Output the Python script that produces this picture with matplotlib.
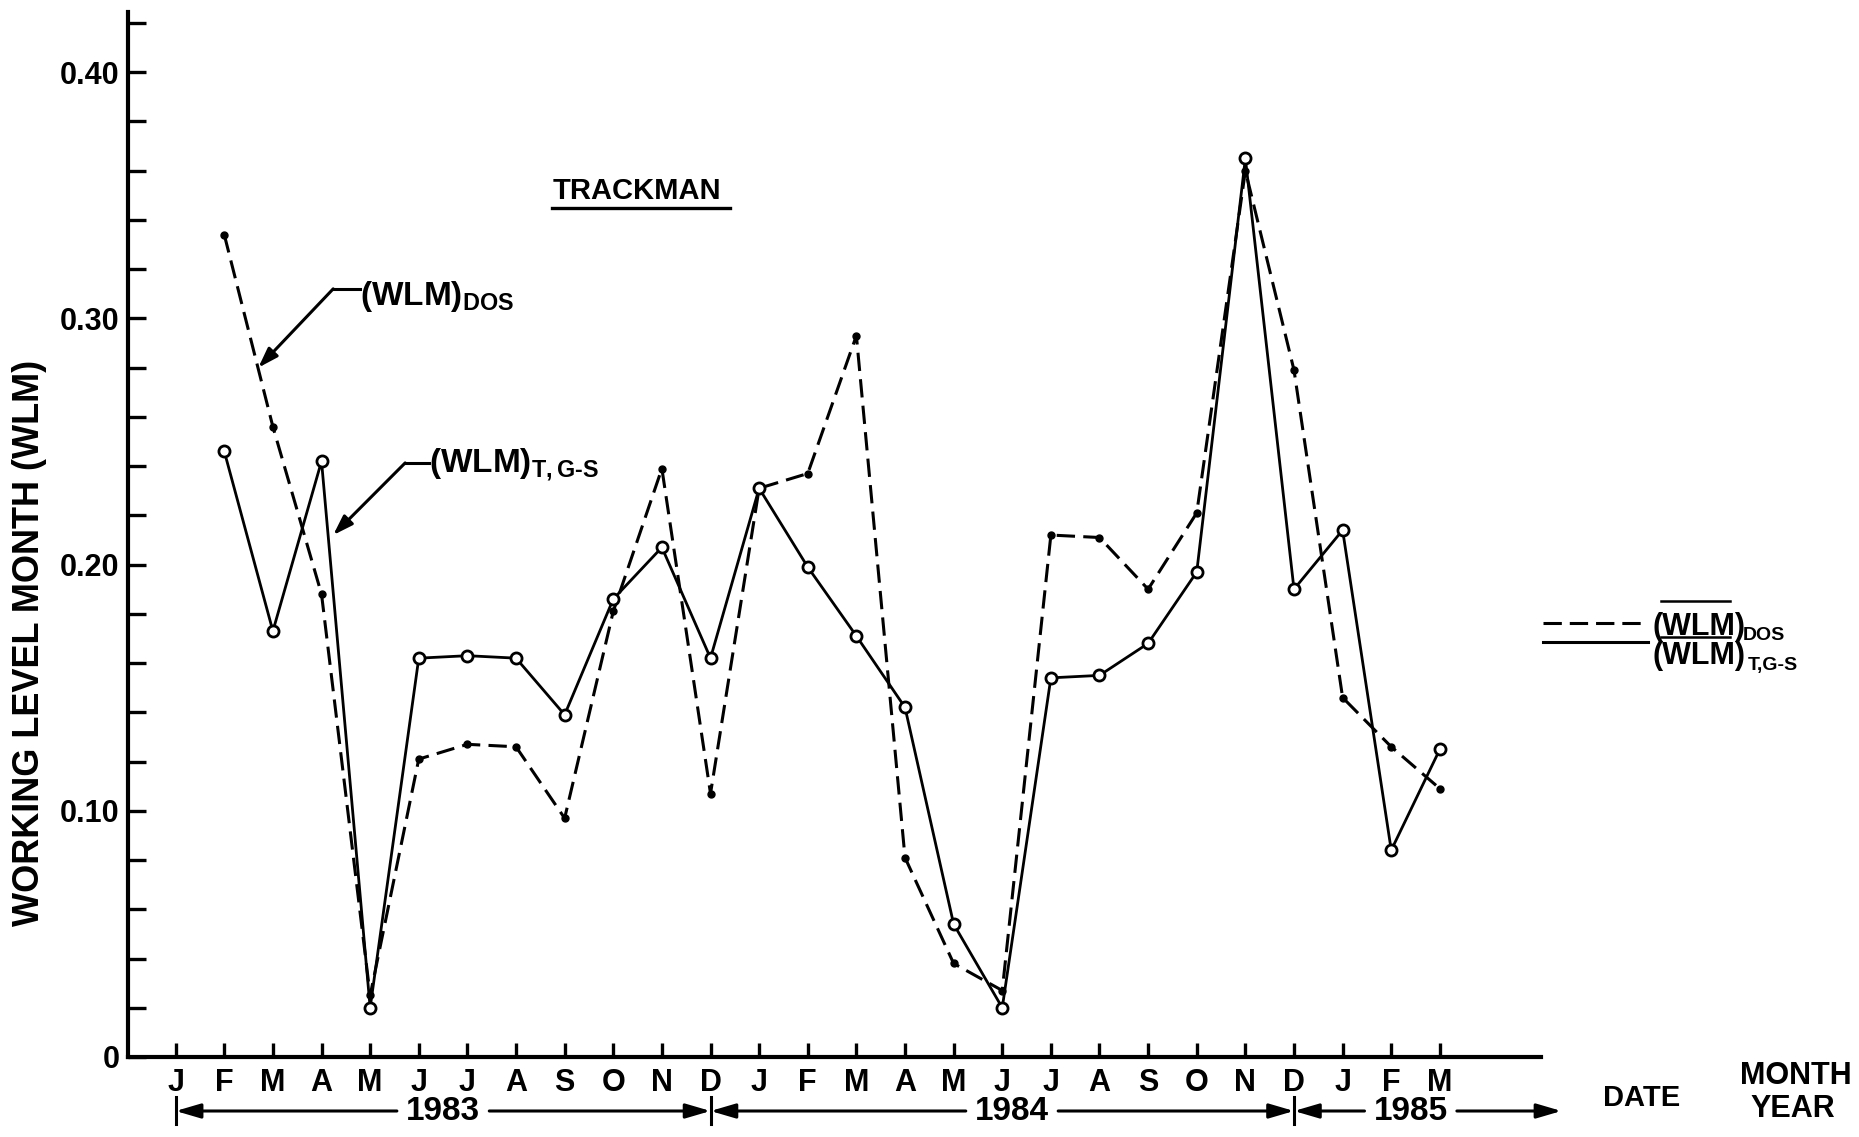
import matplotlib
matplotlib.use("Agg")
import matplotlib.pyplot as plt
import matplotlib.transforms as mtransforms
from matplotlib.lines import Line2D
import numpy as np

plt.rcParams['font.family'] = ['Liberation Sans', 'DejaVu Sans']
plt.rcParams['font.weight'] = 'bold'
plt.rcParams['mathtext.fontset'] = 'custom'
plt.rcParams['mathtext.rm'] = 'Liberation Sans:bold'
plt.rcParams['mathtext.it'] = 'Liberation Sans:bold:italic'
plt.rcParams['mathtext.bf'] = 'Liberation Sans:bold'

# ---- data ----
months = ["J", "F", "M", "A", "M", "J", "J", "A", "S", "O", "N", "D",
          "J", "F", "M", "A", "M", "J", "J", "A", "S", "O", "N", "D",
          "J", "F", "M"]
# data start at Feb 1983 (index 1)
dos = [0.334, 0.256, 0.188, 0.025, 0.121, 0.127, 0.126, 0.097, 0.181, 0.239, 0.107,
       0.231, 0.237, 0.293, 0.081, 0.038, 0.027, 0.212, 0.211, 0.190, 0.221, 0.360,
       0.279, 0.146, 0.126, 0.109]
tgs = [0.246, 0.173, 0.242, 0.020, 0.162, 0.163, 0.162, 0.139, 0.186, 0.207, 0.162,
       0.231, 0.199, 0.171, 0.142, 0.054, 0.020, 0.154, 0.155, 0.168, 0.197, 0.365,
       0.190, 0.214, 0.084, 0.125]
years = ["1983", "1984", "1985"]
year_centers = [5.5, 17.2, 25.4]
year_bounds = [(0, 11), (11, 23), (23, 28.5)]

W, H = 1859, 1137
AX_L, AX_R, AX_B, AX_T = 128, 1541, 1057, 12
fig = plt.figure(figsize=(W / 100, H / 100), dpi=100)
ax = fig.add_axes([AX_L / W, (H - AX_B) / H, (AX_R - AX_L) / W, (AX_B - AX_T) / H])

x = np.arange(1, 1 + len(dos))
ax.plot(x, dos, color='black', lw=2.2, linestyle=(0, (6.0, 2.7)),
        marker='o', markersize=5, markerfacecolor='black', markeredgecolor='black',
        zorder=3)
ax.plot(x, tgs, color='black', lw=2.0, linestyle='-',
        marker='o', markersize=8, markerfacecolor='white', markeredgecolor='black',
        markeredgewidth=2.0, zorder=4)

ax.set_xlim(-0.98, 28.08)
ax.set_ylim(0, (AX_B - AX_T) / 2462)
for s in ['top', 'right']:
    ax.spines[s].set_visible(False)
for s in ['left', 'bottom']:
    ax.spines[s].set_linewidth(3.0)

ax.set_yticks([0, 0.1, 0.2, 0.3, 0.4])
ax.set_yticklabels(["0", "0.10", "0.20", "0.30", "0.40"])
ax.set_yticks(np.arange(0.02, 0.43, 0.02), minor=True)
ax.tick_params(axis='y', which='both', direction='in', length=13, width=2.4,
               labelsize=22, pad=6)
ax.set_xticks(np.arange(len(months)))
ax.set_xticklabels(months)
ax.tick_params(axis='x', which='both', direction='in', length=10, width=2.4,
               labelsize=22, pad=8)

fig.text(30 / W, 1 - 643 / H, "WORKING LEVEL MONTH (WLM)", fontsize=26,
         rotation=90, ha='center', va='center')

# title label
ax.text(7.75, 0.3485, "TRACKMAN", fontsize=21, ha='left', va='baseline')
ax.plot([7.73, 11.41], [0.3450, 0.3450], color='black', lw=2.4, clip_on=False)

# annotation leaders
def leader(text, tip, bend, start, txt_xy):
    ax.plot([bend[0], start[0]], [bend[1], start[1]], color='black', lw=2.2)
    ax.annotate('', xy=tip, xytext=bend,
                arrowprops=dict(arrowstyle='-|>,head_length=0.6,head_width=0.2',
                                mutation_scale=20, color='black', lw=2.2,
                                shrinkA=0, shrinkB=0))
    ax.text(txt_xy[0], txt_xy[1], text, fontsize=24, ha='left', va='baseline')

leader(r'$(\mathrm{WLM})_{\mathrm{DOS}}$', (1.70, 0.280), (3.24, 0.312),
       (3.80, 0.312), (3.80, 0.3054))
leader(r'$(\mathrm{WLM})_{\mathrm{T,G\text{-}S}}$', (3.24, 0.212), (4.72, 0.2413),
       (5.22, 0.2413), (5.22, 0.2376))

# legend at right
fy = lambda py: 1 - py / H
fx = lambda px: px / W
fig.add_artist(Line2D([fx(1543), fx(1648)], [fy(623), fy(623)], color='black', lw=2.2,
                      linestyle=(0, (6.0, 2.6))))
fig.add_artist(Line2D([fx(1543), fx(1648)], [fy(642), fy(642)], color='black', lw=2.2))
fig.text(fx(1652), fy(635), "(WLM)", fontsize=22, ha='left', va='baseline')
fig.text(fx(1743), fy(640), "DOS", fontsize=14, ha='left', va='baseline')
fig.text(fx(1652), fy(664), "(WLM)", fontsize=22, ha='left', va='baseline')
fig.text(fx(1748), fy(670), "T,G-S", fontsize=14, ha='left', va='baseline')
fig.add_artist(Line2D([fx(1661), fx(1730)], [fy(601), fy(601)], color='black', lw=1.8))
fig.add_artist(Line2D([fx(1661), fx(1730)], [fy(637), fy(637)], color='black', lw=1.8))

# year row
trans = mtransforms.blended_transform_factory(ax.transData, fig.transFigure)
yrow = fy(1111)
arrow_kw = dict(arrowstyle='-|>,head_length=0.75,head_width=0.22', mutation_scale=20,
                color='black', lw=2.2, shrinkA=0, shrinkB=0)
for label, c, (a, b) in zip(years, year_centers, year_bounds):
    ax.text(c, yrow, label, transform=trans, fontsize=24, ha='center', va='center')
    half = 0.95
    ax.annotate('', xy=(a, yrow), xytext=(c - half, yrow), xycoords=trans,
                textcoords=trans, arrowprops=arrow_kw, annotation_clip=False)
    ax.annotate('', xy=(b, yrow), xytext=(c + half, yrow), xycoords=trans,
                textcoords=trans, arrowprops=arrow_kw, annotation_clip=False)
for xb in [0, 11, 23]:
    ax.plot([xb, xb], [fy(1097), fy(1124)], transform=trans, color='black', lw=2.2,
            clip_on=False)

fig.text(fx(1642), fy(1098), "DATE", fontsize=21, ha='center', va='center')
fig.text(fx(1796), fy(1076), "MONTH", fontsize=22, ha='center', va='center')
fig.text(fx(1793), fy(1109), "YEAR", fontsize=22, ha='center', va='center')

fig.savefig("out.png", dpi=100)
